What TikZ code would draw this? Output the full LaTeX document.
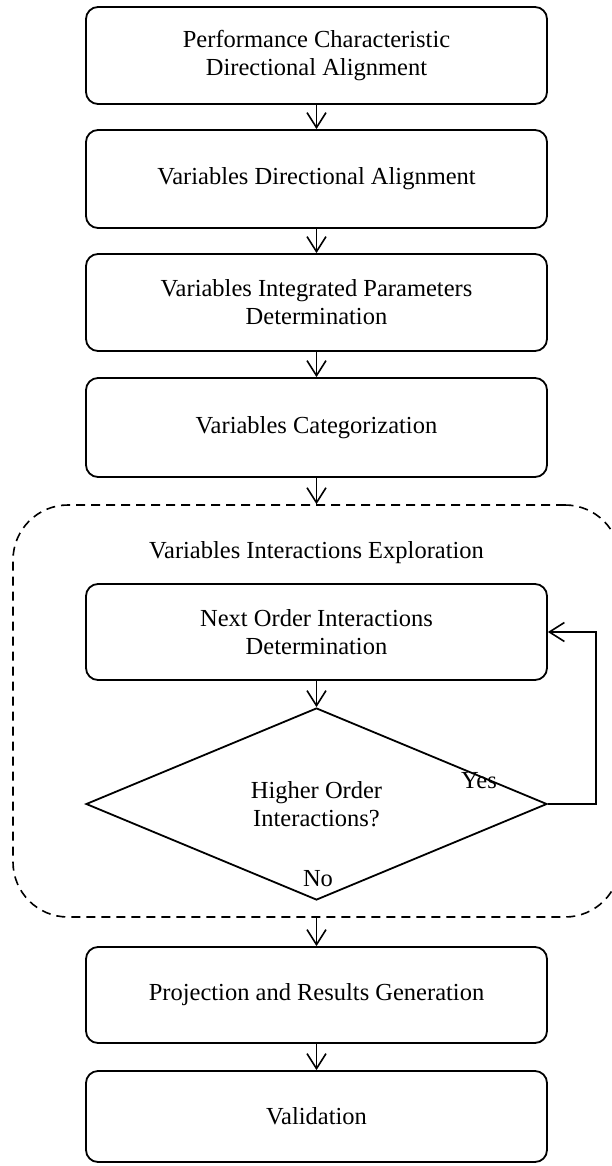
\documentclass[tikz,border=0pt]{standalone}
\usepackage{fontspec}
\setmainfont{Liberation Serif}
\usetikzlibrary{arrows.meta,shapes.geometric}
\begin{document}
\begin{tikzpicture}[x=1pt,y=-1pt,
  every node/.style={font=\fontsize{24.5}{28}\selectfont, align=center, inner sep=0pt},
  stepbox/.style={draw, line width=1.8pt, rounded corners=12pt, minimum width=461pt},
  grp/.style={draw, line width=1.6pt, dash pattern=on 9pt off 6pt, rounded corners=55pt},
  decision/.style={draw, diamond, line width=1.8pt, minimum width=461pt, minimum height=192pt},
  arr/.style={line width=1.6pt, -{Straight Barb[length=15pt,width=19pt,line width=1.6pt]}}
]
\useasboundingbox (0,0) rectangle (612,1166);
\node[stepbox, minimum height=97pt] (b1) at (316.5,55.5) {Performance Characteristic\\Directional Alignment};
\node[stepbox, minimum height=98pt] (b2) at (316.5,179) {Variables Directional Alignment};
\node[stepbox, minimum height=97pt] (b3) at (316.5,302.5) {Variables Integrated Parameters\\Determination};
\node[stepbox, minimum height=99pt] (b4) at (316.5,427.5) {Variables Categorization};
\node[grp, minimum width=607pt, minimum height=412pt] (g) at (316.5,711) {};
\node (gl) at (316.5,553) {Variables Interactions Exploration};
\node[stepbox, minimum height=96pt] (b5) at (316.5,632) {Next Order Interactions\\Determination};
\node[decision] (d) at (316.5,804) {Higher Order\\Interactions?};
\node (yes) at (479,781) {Yes};
\node (no) at (318,879) {No};
\coordinate (loop) at (596,804);
\node[stepbox, minimum height=96pt] (b6) at (316.5,995) {Projection and Results Generation};
\node[stepbox, minimum height=91pt] (b7) at (316.5,1116.5) {Validation};
\draw[arr] (b1.south) -- (b2.north);
\draw[arr] (b2.south) -- (b3.north);
\draw[arr] (b3.south) -- (b4.north);
\draw[arr] (b4.south) -- (g.north);
\draw[arr] (b5.south) -- (d.north);
\draw[arr] (d.east) -- (loop) |- (b5.east);
\draw[arr] (g.south) -- (b6.north);
\draw[arr] (b6.south) -- (b7.north);
\end{tikzpicture}
\end{document}
